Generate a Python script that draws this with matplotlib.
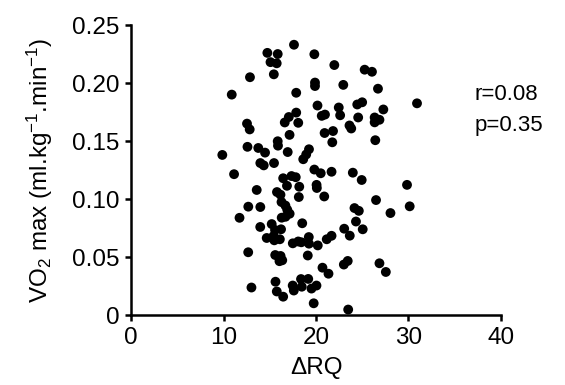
import matplotlib
matplotlib.use("Agg")
import matplotlib.pyplot as plt

plt.rcParams["font.family"] = ["Liberation Sans", "DejaVu Sans"]

# delta RQ vs VO2 max
delta_rq = [
    9.87, 10.89, 12.86, 12.54, 12.83, 12.59, 13.76, 14.49, 13.98, 14.35,
    15.46, 14.74, 15.86, 15.08, 15.75, 15.44, 17.62, 17.86, 19.82, 19.89,
    19.89, 20.16, 17.86, 17.06, 16.62, 18.08, 17.14, 15.86, 15.89, 16.94,
    19.24, 18.94, 18.62, 19.82, 21.98, 25.26, 26.05, 22.95, 26.70, 30.92,
    22.46, 24.46, 24.99, 27.28, 20.62, 20.97, 22.61, 24.56, 26.34, 26.86,
    26.34, 23.62, 23.81, 20.93, 21.84, 21.76, 26.41, 11.14, 13.59, 12.68,
    13.98, 11.73, 13.97, 14.67, 12.67, 13.02, 15.78, 16.16, 16.45, 16.86,
    17.35, 17.81, 18.19, 18.14, 16.27, 16.69, 16.89, 17.15, 16.70, 16.29,
    15.21, 15.57, 16.22, 15.41, 15.49, 16.09, 18.51, 17.49, 18.08, 18.41,
    19.22, 19.24, 20.19, 15.59, 16.17, 16.35, 16.05, 19.11, 20.06, 20.09,
    20.89, 20.51, 21.68, 23.98, 24.94, 29.84, 30.13, 28.05, 26.49, 24.16,
    24.63, 24.32, 25.05, 23.05, 23.65, 21.16, 21.68, 20.70, 21.35, 23.01,
    23.43, 26.86, 27.55, 15.62, 15.76, 16.45, 17.48, 17.60, 18.38, 19.16,
    18.46, 19.51, 20.05, 19.75, 23.48,
]
vo2_max = [
    0.138, 0.190, 0.205, 0.165, 0.160, 0.145, 0.144, 0.140, 0.131, 0.129,
    0.131, 0.226, 0.225, 0.218, 0.217, 0.2075, 0.233, 0.1916, 0.2248, 0.2004,
    0.1974, 0.1806, 0.1745, 0.1707, 0.166, 0.1657, 0.1553, 0.1498, 0.146, 0.1405,
    0.1429, 0.1384, 0.1343, 0.1254, 0.2155, 0.2115, 0.2097, 0.1984, 0.1951, 0.1825,
    0.1789, 0.1815, 0.1834, 0.1772, 0.1717, 0.1728, 0.1722, 0.1703, 0.1703, 0.1683,
    0.1661, 0.1634, 0.1608, 0.1569, 0.1586, 0.1489, 0.1507, 0.1214, 0.1078, 0.0934,
    0.0931, 0.0838, 0.0759, 0.0664, 0.0541, 0.0237, 0.106, 0.1037, 0.1179, 0.1114,
    0.1198, 0.1188, 0.1106, 0.1017, 0.0974, 0.0944, 0.0908, 0.0873, 0.0847, 0.0839,
    0.0784, 0.0733, 0.0739, 0.0681, 0.0644, 0.0653, 0.0791, 0.0618, 0.0634, 0.0627,
    0.0672, 0.0615, 0.060, 0.0517, 0.0509, 0.0472, 0.0464, 0.0513, 0.1122, 0.1095,
    0.1022, 0.1222, 0.1235, 0.1227, 0.1164, 0.1122, 0.0937, 0.0879, 0.0991, 0.0922,
    0.0898, 0.0806, 0.0739, 0.0744, 0.0684, 0.0653, 0.0683, 0.0408, 0.0356, 0.0435,
    0.0466, 0.0446, 0.0371, 0.0287, 0.0203, 0.0158, 0.0254, 0.0211, 0.031, 0.0311,
    0.0244, 0.0228, 0.0254, 0.0101, 0.0047,
]

x_ticks = [0, 10, 20, 30, 40]
y_ticks = [0, 0.05, 0.10, 0.15, 0.20, 0.25]
y_tick_labels = ["0", "0.05", "0.10", "0.15", "0.20", "0.25"]
stats_text = ["r=0.08", "p=0.35"]

fig = plt.figure(figsize=(5.65, 3.85), dpi=100)
ax = fig.add_axes([0.2319, 0.1818, 0.6548, 0.7532])

ax.scatter(delta_rq, vo2_max, s=50, color="black", edgecolors="none",
           clip_on=False, zorder=3)

ax.set_xlim(0, 40)
ax.set_ylim(0, 0.25)
ax.set_xticks(x_ticks)
ax.set_yticks(y_ticks)
ax.set_yticklabels(y_tick_labels)

for side in ["top", "right"]:
    ax.spines[side].set_visible(False)
for side in ["left", "bottom"]:
    ax.spines[side].set_linewidth(1.8)
ax.tick_params(axis="both", direction="out", length=4.5, width=1.8,
               labelsize=17.5, pad=4)

ax.set_xlabel("ΔRQ", fontsize=17.5, labelpad=6)
ax.set_ylabel(r"VO$\mathregular{_2}$ max (ml.kg$\mathregular{^{-1}}$.min$\mathregular{^{-1}}$)",
              fontsize=17.5, labelpad=12)

ax.text(37.1, 0.190, stats_text[0], fontsize=16, va="center", ha="left")
ax.text(37.1, 0.163, stats_text[1], fontsize=16, va="center", ha="left")

fig.savefig("out.png", dpi=100)
